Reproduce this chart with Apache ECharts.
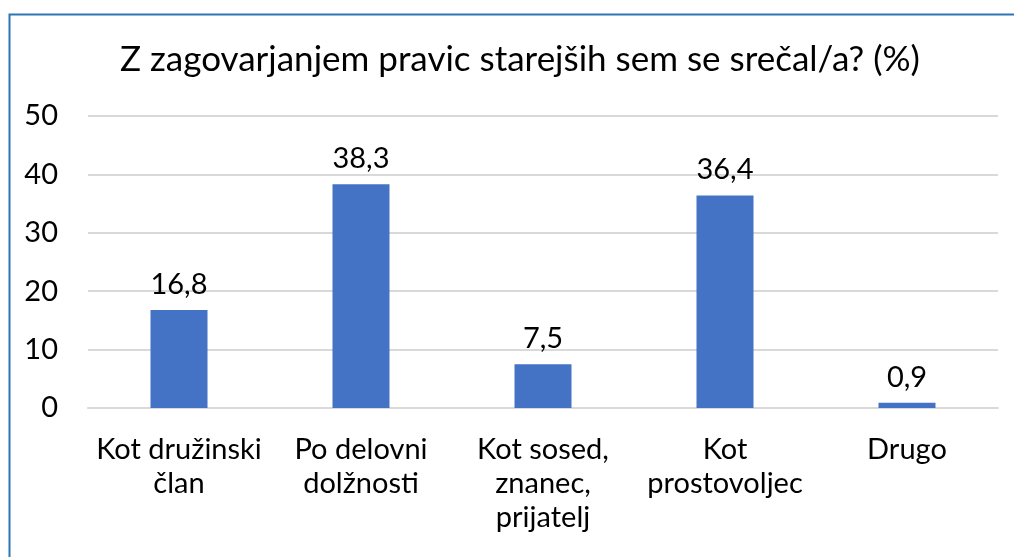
<!DOCTYPE html>
<html>
<head>
<meta charset="utf-8">
<script src="https://cdn.jsdelivr.net/npm/echarts@6/dist/echarts.min.js"></script>
<style>
  html, body { margin: 0; padding: 0; background: #fff; }
  #chart { width: 1014px; height: 557px; }
</style>
</head>
<body>
<div id="chart"></div>
<script>
// podatki
let categories = ['Kot družinski\nčlan', 'Po delovni\ndolžnosti', 'Kot sosed,\nznanec,\nprijatelj', 'Kot\nprostovoljec', 'Drugo'];
let values = [16.8, 38.3, 7.5, 36.4, 0.9];

let font = 'Lato, "Open Sans", sans-serif';
let chart = echarts.init(document.getElementById('chart'));

let option = {
    animation: false,
    backgroundColor: '#fff',
    title: {
        text: 'Z zagovarjanjem pravic starejših sem se srečal/a? (%)',
        left: 115,
        top: 37,
        textStyle: { fontFamily: font, fontSize: 35, fontWeight: 'normal', color: '#000' }
    },
    graphic: [{
        type: 'rect',
        shape: { x: 9.5, y: 14.5, width: 1100, height: 700 },
        style: { fill: 'none', stroke: '#2E75B6', lineWidth: 2 },
        silent: true
    }],
    grid: { left: 88, right: 16, top: 116, bottom: 149 },
    xAxis: {
        type: 'category',
        data: categories,
        axisLine: { lineStyle: { color: '#D9D9D9', width: 2 } },
        axisTick: { show: false },
        axisLabel: { fontFamily: font, fontSize: 29, color: '#000', margin: 25, lineHeight: 34, interval: 0 }
    },
    yAxis: {
        type: 'value',
        min: 0,
        max: 50,
        interval: 10,
        axisLine: { show: false },
        axisTick: { show: false },
        splitLine: { lineStyle: { color: '#D9D9D9', width: 2 } },
        axisLabel: { fontFamily: font, fontSize: 29, color: '#000', margin: 30 }
    },
    series: [{
        type: 'bar',
        data: values,
        barWidth: 57,
        itemStyle: { color: '#4472C4' },
        label: {
            show: true,
            position: 'top',
            distance: 11,
            fontFamily: font,
            fontSize: 29,
            color: '#000',
            formatter: function (p) { return String(p.value).replace('.', ','); }
        }
    }]
};

chart.setOption(option);
</script>
</body>
</html>
